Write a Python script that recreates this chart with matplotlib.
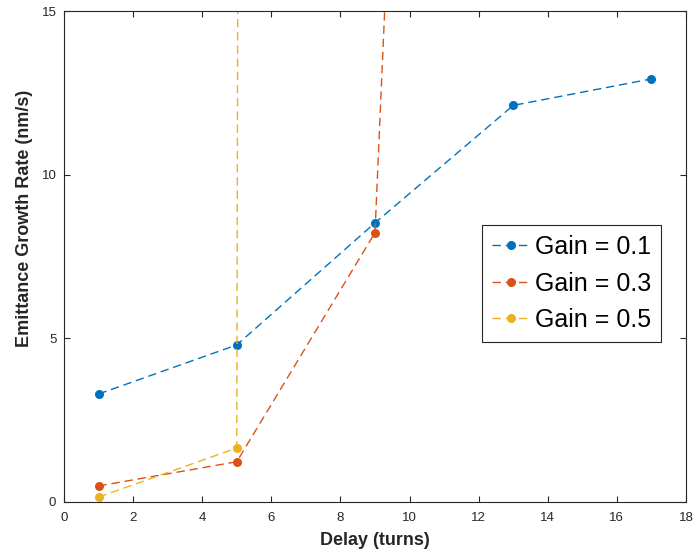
import matplotlib.pyplot as plt

# Data
delay = [1, 5, 9, 13, 17]
gain_01 = [3.3, 4.8, 8.53, 12.12, 12.93]
delay_03 = [1, 5, 9, 13]
gain_03 = [0.49, 1.23, 8.23, 105.0]
delay_05 = [1, 5, 9]
gain_05 = [0.15, 1.65, 2000.0]
labels = ["Gain = 0.1", "Gain = 0.3", "Gain = 0.5"]

colors = ["#0072BD", "#D95319", "#EDB120"]
xticks = list(range(0, 19, 2))
yticks = [0, 5, 10, 15]

plt.rcParams["font.family"] = ["Liberation Sans", "DejaVu Sans"]

fig = plt.figure(figsize=(6.97, 5.59), dpi=100)
ax = fig.add_axes([0.0918, 0.102, 0.8924, 0.878])

series = [(delay, gain_01), (delay_03, gain_03), (delay_05, gain_05)]
for (x, y), c, lab in zip(series, colors, labels):
    ax.plot(x, y, color=c, linestyle="--", dashes=(6, 3.5), linewidth=1,
            marker="o", markersize=6.5, markeredgewidth=0, label=lab)

ax.set_xlim(0, 18)
ax.set_ylim(0, 15)
ax.set_xticks(xticks)
ax.set_yticks(yticks)
ax.tick_params(direction="in", length=4, width=0.8, colors="#262626",
               labelsize=9.5, top=True, right=True, pad=5.5)
ax.tick_params(axis="x", pad=7)
for s in ax.spines.values():
    s.set_color("#262626")
    s.set_linewidth(0.8)

ax.set_xlabel("Delay (turns)", fontsize=13, fontweight="bold", color="#262626",
              labelpad=6)
ax.set_ylabel("Emittance Growth Rate (nm/s)", fontsize=13, fontweight="bold",
              color="#262626")
ax.yaxis.set_label_coords(-0.05, 0.578)

leg = ax.legend(loc="upper right", bbox_to_anchor=(0.96, 0.564), fontsize=18,
                fancybox=False, framealpha=1, edgecolor="#262626",
                handlelength=1.5, borderpad=0.4, labelspacing=0.5,
                handletextpad=0.2, borderaxespad=0)
leg.get_frame().set_linewidth(0.8)

fig.savefig("out.png", dpi=100)
